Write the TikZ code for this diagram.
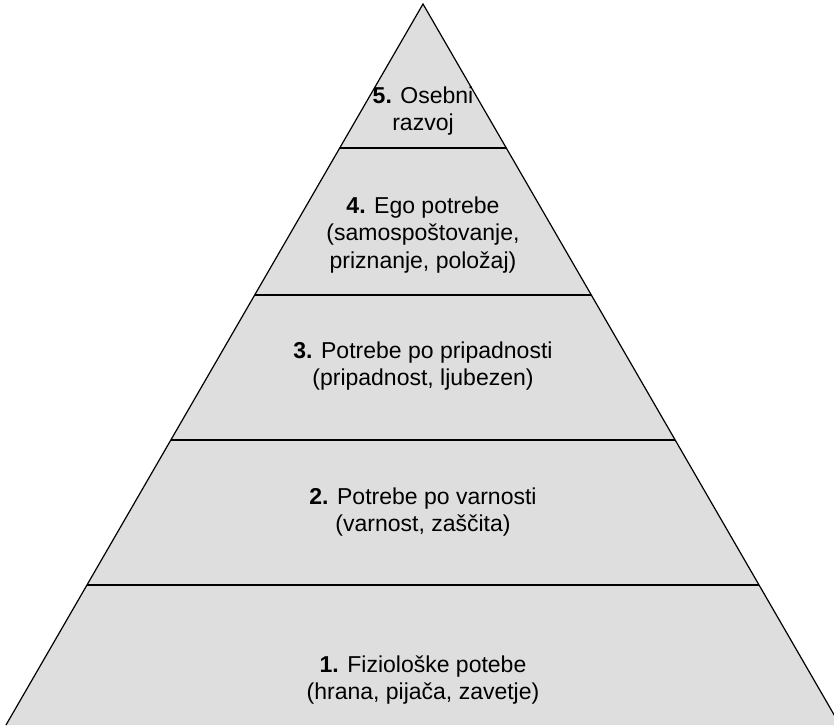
\documentclass[tikz,border=0pt]{standalone}
\usepackage{fontspec}
\setmainfont{Liberation Sans}
\tikzset{level/.style={align=center, font=\fontsize{23}{27.5}\selectfont}}
\begin{document}
\begin{tikzpicture}[x=1pt, y=-1pt]
    \useasboundingbox (0,0) rectangle (834,725);
    \clip (0,0) rectangle (834,725);
    \coordinate (top) at (423,4);
    \coordinate (bl) at (6,725);
    \coordinate (br) at (840,725);
    \fill [black!13] (top) -- (bl) -- (br) -- cycle;
    \begin{scope}
      \clip (top) -- (bl) -- (br) -- cycle;
      \foreach \y in {148, 295, 440, 585}
        \draw [line width = 1.8pt] (0,\y) -- (834,\y);
    \end{scope}
    \draw [line width = 1.2pt] (bl) -- (top) -- (br);
    \node [level] (n5) at (423,111) {\textbf{5.} Osebni\\razvoj};
    \node [level] (n4) at (423,235) {\textbf{4.} Ego potrebe\\(samospoštovanje,\\priznanje, položaj)};
    \node [level] (n3) at (423,366) {\textbf{3.} Potrebe po pripadnosti\\(pripadnost, ljubezen)};
    \node [level] (n2) at (423,512) {\textbf{2.} Potrebe po varnosti\\(varnost, zaščita)};
    \node [level] (n1) at (423,680) {\textbf{1.} Fiziološke potebe\\(hrana, pijača, zavetje)};
  \end{tikzpicture}
\end{document}
